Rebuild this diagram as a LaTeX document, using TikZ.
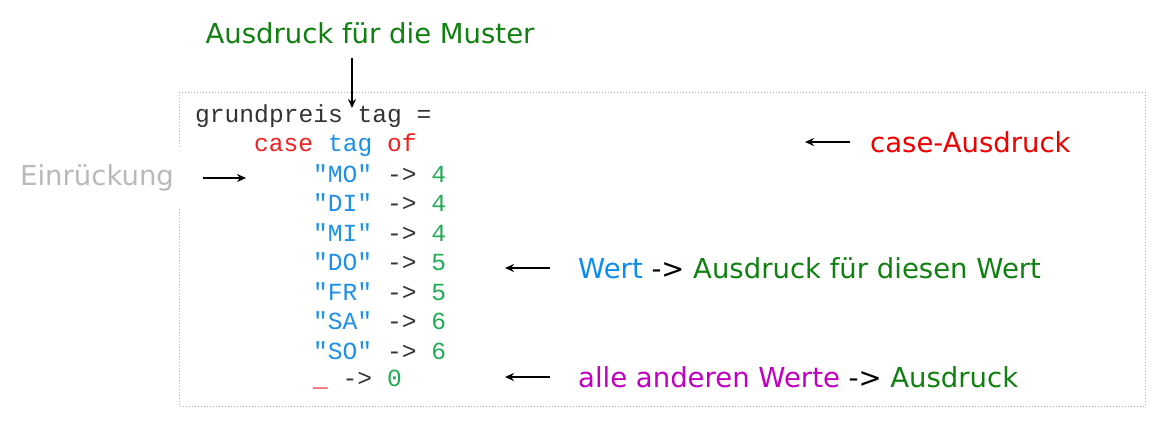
\documentclass[tikz,border=0pt]{standalone}
\usepackage{fontspec}
\setmainfont{DejaVu Sans}
\newfontfamily\codefont{Liberation Mono}
\usetikzlibrary{arrows.meta}
\definecolor{kred}{HTML}{EE2222}
\definecolor{kblue}{HTML}{1E90E8}
\definecolor{knum}{HTML}{22AA55}
\definecolor{lgreen}{HTML}{108010}
\definecolor{lmag}{HTML}{C000C0}
\definecolor{lred}{HTML}{EE0000}
\definecolor{lblue}{HTML}{0A8CF0}
\begin{document}
\begin{tikzpicture}[x=1pt,y=-1pt,
  code/.style={anchor=west,inner sep=0pt,text=black!80,font=\codefont\fontsize{24.6}{29}\selectfont},
  lbl/.style={anchor=west,inner sep=0pt,font=\fontsize{27.5}{32}\selectfont},
  arr/.style={-{Stealth[length=9pt,width=8pt]},line width=1.5pt}]
\useasboundingbox (0,0) rectangle (1166,432);
\draw[gray!60,dotted,line width=1pt] (179,92) rectangle (1145,406);
\node[fill=white,inner sep=0pt,minimum width=12pt,minimum height=58pt] (gap) at (179,178) {};
\node[code] (l1) at (195,116) {grundpreis tag =};
\node[code] (l2) at (254,145) {\textcolor{kred}{case} \textcolor{kblue}{tag} \textcolor{kred}{of}};
\node[code] (l3) at (313,174) {\textcolor{kblue}{"MO"} -> \textcolor{knum}{4}};
\node[code] (l4) at (313,203) {\textcolor{kblue}{"DI"} -> \textcolor{knum}{4}};
\node[code] (l5) at (313,233) {\textcolor{kblue}{"MI"} -> \textcolor{knum}{4}};
\node[code] (l6) at (313,262) {\textcolor{kblue}{"DO"} -> \textcolor{knum}{5}};
\node[code] (l7) at (313,292) {\textcolor{kblue}{"FR"} -> \textcolor{knum}{5}};
\node[code] (l8) at (313,321) {\textcolor{kblue}{"SA"} -> \textcolor{knum}{6}};
\node[code] (l9) at (313,351) {\textcolor{kblue}{"SO"} -> \textcolor{knum}{6}};
\node[code] (l10) at (313,380) {\textcolor{kred}{\_} -> \textcolor{knum}{0}};
\node[lbl,anchor=center,text=lgreen] (muster) at (370,33) {Ausdruck für die Muster};
\node[lbl,text=gray!55] (einr) at (20,178) {Einrückung};
\node[lbl,text=lred] (case) at (870,142) {case-Ausdruck};
\node[lbl] (wert) at (578,268) {\textcolor{lblue}{Wert} -> \textcolor{lgreen}{Ausdruck für diesen Wert}};
\node[lbl] (alle) at (578,377) {\textcolor{lmag}{alle anderen Werte} -> \textcolor{lgreen}{Ausdruck}};
\coordinate (m1) at (352,58); \coordinate (m2) at (352,108);
\draw[arr] (m1) -- (m2);
\coordinate (e1) at (203,178); \coordinate (e2) at (246,178);
\draw[arr] (e1) -- (e2);
\coordinate (c1) at (850,142); \coordinate (c2) at (805,142);
\draw[arr] (c1) -- (c2);
\coordinate (w1) at (550,268); \coordinate (w2) at (505,268);
\draw[arr] (w1) -- (w2);
\coordinate (a1) at (550,377); \coordinate (a2) at (505,377);
\draw[arr] (a1) -- (a2);
\end{tikzpicture}
\end{document}
